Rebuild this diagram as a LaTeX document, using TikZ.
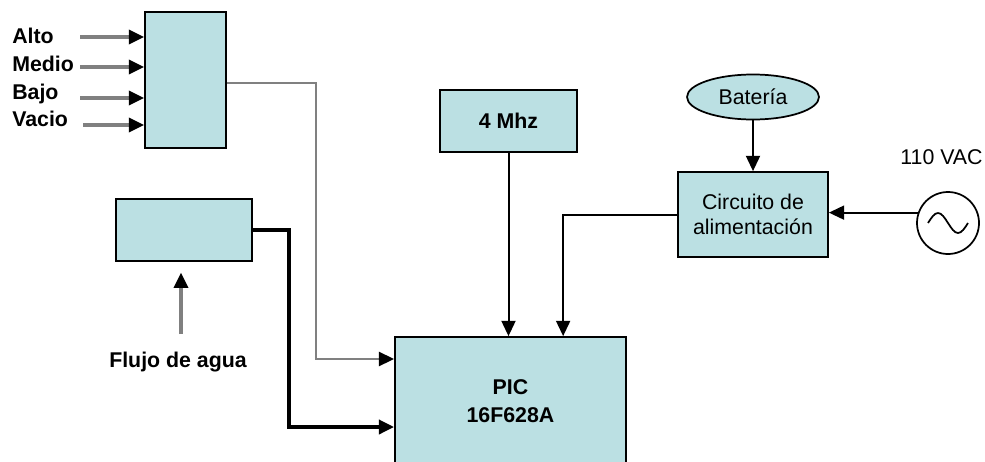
\documentclass[tikz,border=0pt]{standalone}
\usepackage{fontspec}
\setmainfont{Liberation Sans}
\usepackage{xcolor}
\usetikzlibrary{arrows.meta,positioning,shapes.geometric}
\definecolor{boxfill}{RGB}{187,224,227}
\definecolor{lgray}{RGB}{128,128,128}

\begin{document}
\begin{tikzpicture}[
x=0.75pt,y=-0.75pt,
font=\fontsize{16}{18.5}\selectfont,
box/.style={draw,fill=boxfill,line width=1.3pt,inner sep=0pt,align=center},
lbl/.style={font=\fontsize{16}{18.5}\selectfont\bfseries,inner sep=0pt},
tip/.style={-{Triangle[length=11.5pt,width=10.5pt,color=black]}},
inarr/.style={tip,draw=lgray,line width=2.6pt},
sig/.style={tip,line width=1.5pt}
]
\useasboundingbox (0,0) rectangle (985,461);
\clip (0,0) rectangle (985,461);

% level sensors
\node[box,minimum width=60.75pt,minimum height=102pt] (sens) at (185.5,80) {};
\node[lbl,anchor=base west] (alto) at (12,43) {Alto};
\node[lbl,anchor=base west] (medio) at (12,71) {Medio};
\node[lbl,anchor=base west] (bajo) at (12,99) {Bajo};
\node[lbl,anchor=base west] (vacio) at (12,126) {Vacio};
\coordinate (alto-in) at (80,37);
\coordinate (medio-in) at (80,67);
\coordinate (bajo-in) at (80,98);
\coordinate (vacio-in) at (83,125);
\draw[inarr] (alto-in) -- (alto-in -| sens.west);
\draw[inarr] (medio-in) -- (medio-in -| sens.west);
\draw[inarr] (bajo-in) -- (bajo-in -| sens.west);
\draw[inarr] (vacio-in) -- (vacio-in -| sens.west);

% flow sensor
\node[box,minimum width=102pt,minimum height=46.5pt] (caudal) at (184,230) {};
\node[lbl] (agua) at (178,362) {Flujo de agua};
\coordinate (agua-up) at (181,334);
\draw[inarr,shorten >=8pt] (agua-up) -- (caudal.south -| agua-up);

% micro, clock, power
\node[box,font=\fontsize{16}{18.5}\selectfont\bfseries,minimum width=102.75pt,minimum height=46.5pt] (osc) at (508.5,121) {4 Mhz};
\node[box,font=\fontsize{16}{21}\selectfont\bfseries,minimum width=173.25pt,minimum height=96pt] (pic) at (510.5,401) {PIC\\16F628A};
\node[box,ellipse,minimum width=99pt,minimum height=33.75pt] (bat) at (753,97) {Batería};
\node[box,minimum width=112.5pt,minimum height=63.75pt] (circ) at (753,214.5) {Circuito de\\alimentación};
\node[draw,circle,line width=1.3pt,minimum size=46.5pt,inner sep=0pt] (ac) at (948,223) {};
\draw[line width=1.3pt] ([xshift=-15pt]ac.center) sin ++(10,-10) cos ++(10,10) sin ++(10,10) cos ++(10,-10);
\node[inner sep=0pt] (vac) at (941.5,157.5) {110 VAC};

\draw[sig] (bat) -- (circ);
\draw[sig] (ac.161) -- (ac.161 -| circ.east);
\draw[sig] (osc) -- (osc |- pic.north);
\draw[sig] (circ.west) -| ([xshift=126.75pt]pic.north west);
\draw[inarr,line width=2pt] ([yshift=-2.25pt]sens.east) -- ++(89,0) |- ([yshift=31.5pt]pic.west);
\draw[sig,line width=3pt] (caudal.east) -- ++(36,0) |- ([yshift=-19.5pt]pic.west);
\end{tikzpicture}
\end{document}
